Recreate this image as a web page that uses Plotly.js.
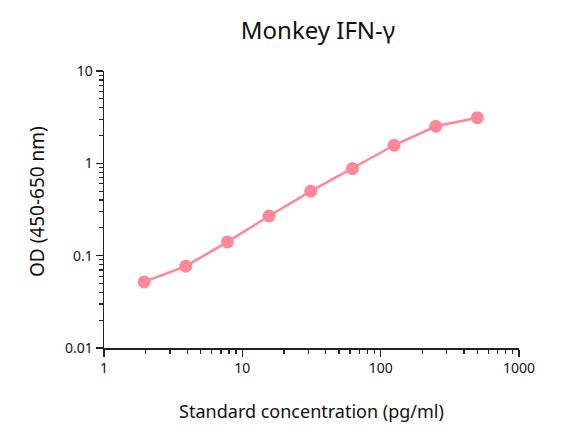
<!DOCTYPE html>
<html>
<head>
<meta charset="utf-8">
<script src="https://cdn.plot.ly/plotly-3.0.1.min.js"></script>
<style>
  html, body { margin: 0; padding: 0; background: #fff; }
  #chart { width: 573px; height: 436px; }
</style>
</head>
<body>
<div id="chart"></div>
<script>
// standard curve, pg/ml vs OD
var concentration = [1.95, 3.9, 7.8, 15.6, 31.25, 62.5, 125, 250, 500];
var od = [0.052, 0.077, 0.141, 0.269, 0.50, 0.877, 1.57, 2.52, 3.12];

var xTicks = [1, 10, 100, 1000];
var xTickText = ['1', '10', '100', '1000'];
var yTicks = [0.01, 0.1, 1, 10];
var yTickText = ['0.01', '0.1', '1', '10'];

// minor ticks 2..9 in each decade
function minorVals(decades) {
  var out = [];
  decades.forEach(function (d) {
    for (var k = 2; k <= 9; k++) out.push(k * d);
  });
  return out;
}
var xMinor = minorVals([1, 10, 100]);
var yMinor = minorVals([0.01, 0.1, 1]);

var pink = '#FF8799';
var fontFam = '"Noto Sans", "DejaVu Sans", sans-serif';

var trace = {
  x: concentration,
  y: od,
  type: 'scatter',
  mode: 'lines+markers',
  line: { color: pink, width: 2.5 },
  marker: { color: pink, size: 13 },
  hoverinfo: 'none'
};

var axisCommon = {
  type: 'log',
  showgrid: false,
  zeroline: false,
  showline: true,
  linecolor: '#222',
  linewidth: 1.5,
  ticks: 'outside',
  ticklen: 7,
  tickwidth: 1.5,
  tickcolor: '#222',
  tickfont: { family: fontFam, size: 14, color: '#111' }
};

var layout = {
  width: 573,
  height: 436,
  margin: { l: 104, r: 54, t: 71, b: 88 },
  paper_bgcolor: '#fff',
  plot_bgcolor: '#fff',
  showlegend: false,
  font: { family: fontFam, color: '#111' },
  title: {
    text: 'Monkey IFN-γ',
    font: { family: fontFam, size: 24, color: '#111' },
    x: 318 / 573, xanchor: 'center',
    y: 1 - 31 / 436, yanchor: 'middle'
  },
  xaxis: Object.assign({}, axisCommon, {
    range: [0, 3],
    tickvals: xTicks,
    ticktext: xTickText,
    minor: { tickmode: 'array', tickvals: xMinor, ticks: 'outside', ticklen: 4, tickwidth: 1.2, tickcolor: '#222', showgrid: false },
    title: { text: 'Standard concentration (pg/ml)', font: { family: fontFam, size: 18, color: '#111' }, standoff: 29 }
  }),
  yaxis: Object.assign({}, axisCommon, {
    range: [-2, 1],
    tickvals: yTicks,
    ticktext: yTickText,
    minor: { tickmode: 'array', tickvals: yMinor, ticks: 'outside', ticklen: 4, tickwidth: 1.2, tickcolor: '#222', showgrid: false }
  }),
  annotations: [{
    text: 'OD (450-650 nm)',
    xref: 'paper', yref: 'paper',
    x: (37 - 104) / 415, y: (348 - 202) / 277,
    xanchor: 'center', yanchor: 'middle',
    textangle: -90,
    showarrow: false,
    font: { family: fontFam, size: 19, color: '#111' }
  }]
};

Plotly.newPlot('chart', [trace], layout, { displayModeBar: false, staticPlot: true });
</script>
</body>
</html>
